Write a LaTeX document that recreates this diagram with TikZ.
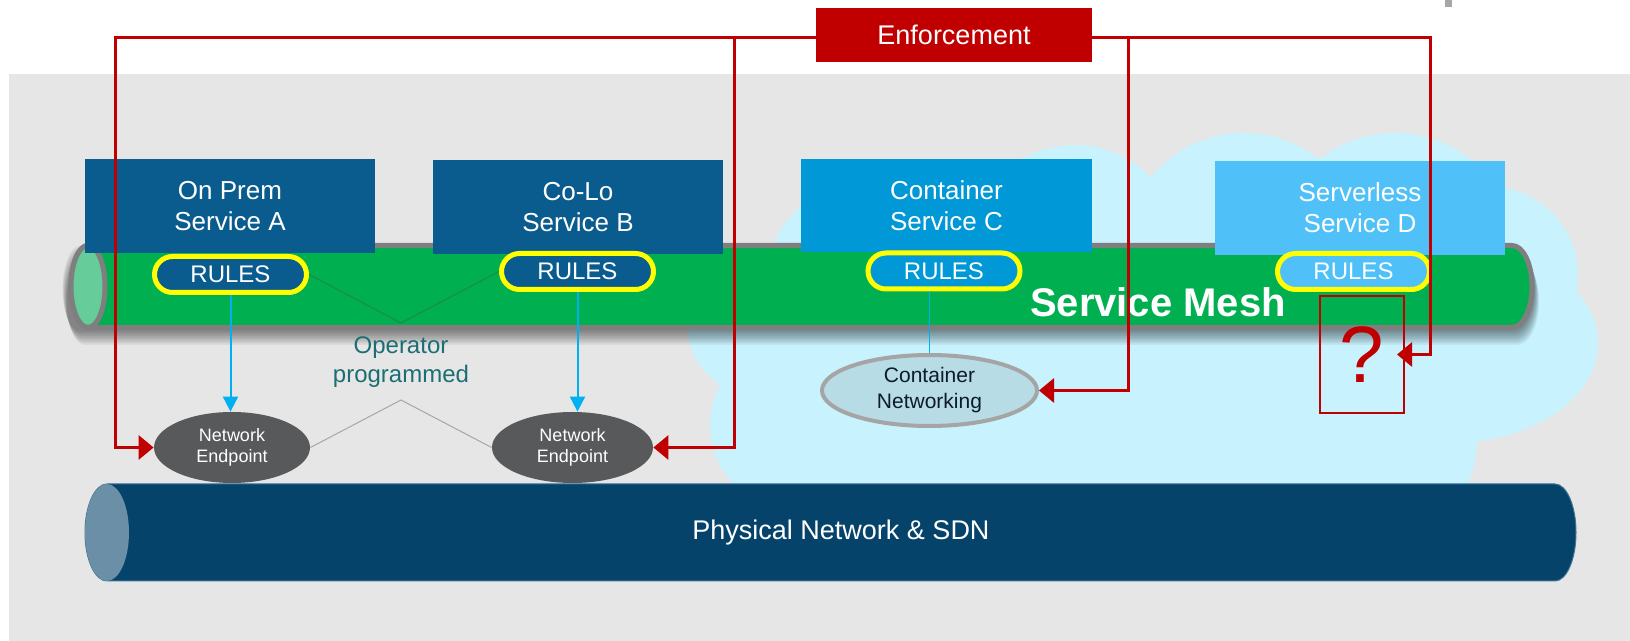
\documentclass[tikz,border=0pt]{standalone}
\usepackage{fontspec}
\setmainfont{Liberation Sans}
\usetikzlibrary{arrows.meta,shapes.geometric,calc}
\definecolor{bgray}{HTML}{E6E6E6}
\definecolor{enfred}{HTML}{C00000}
\definecolor{boxA}{HTML}{0B5C8E}
\definecolor{boxC}{HTML}{0098D6}
\definecolor{boxD}{HTML}{4FC1F8}
\definecolor{cloudc}{HTML}{C8F2FD}
\definecolor{meshg}{HTML}{00AF50}
\definecolor{meshcap}{HTML}{66CC99}
\definecolor{tubeout}{HTML}{7F7F7F}
\definecolor{physb}{HTML}{05436A}
\definecolor{physcap}{HTML}{6A8FA6}
\definecolor{physline}{HTML}{3E7396}
\definecolor{epgray}{HTML}{58595B}
\definecolor{cnfill}{HTML}{B7DCE5}
\definecolor{cnline}{HTML}{A5A5A5}
\definecolor{cntext}{HTML}{0D1B2A}
\definecolor{cyanl}{HTML}{00B0F0}
\definecolor{tealt}{HTML}{1B6E73}
\definecolor{rulesy}{HTML}{FFFF00}
\definecolor{markgray}{HTML}{A6A6A6}
\definecolor{vgreen}{HTML}{1E8A45}
\begin{document}
\begin{tikzpicture}[x=0.5pt,y=-0.5pt,
  svc/.style={rectangle, minimum width=145pt, minimum height=47pt, inner sep=0pt,
    text=white, font=\fontsize{13}{15.5}\selectfont, align=center},
  pill/.style={rectangle, rounded corners=9pt, draw=rulesy, line width=2.5pt,
    minimum width=76pt, minimum height=18pt, inner sep=0pt, text=white,
    font=\fontsize{12}{14}\selectfont},
  ep/.style={ellipse, fill=epgray, minimum width=78pt, minimum height=35.5pt,
    inner sep=0pt, text=white, font=\fontsize{9}{10.5}\selectfont, align=center},
  redl/.style={draw=enfred, line width=1.5pt},
  redtip/.style={-{Triangle[length=7.5pt,width=12pt]}},
  bluel/.style={draw=cyanl, line width=1pt},
  bluetip/.style={-{Triangle[length=7.5pt,width=7.5pt]}},
  vline/.style={draw=vgreen, line width=0.5pt},
  lline/.style={draw=markgray, line width=0.5pt},
  shadowlayer/.style={fill=black, fill opacity=0.05}]
\useasboundingbox (0,0) rectangle (1630,641);
\fill[white] (0,0) rectangle (1630,641);
\fill[bgray] (9,74) rectangle (1630,641);
\fill[markgray] (1445,0) rectangle (1452,7);
% cloud
\fill[cloudc] (1075,250) circle[radius=105];
\fill[cloudc] (1244,253) circle[radius=120];
\fill[cloudc] (1395,255) circle[radius=122];
\fill[cloudc] (1490,275) circle[radius=88];
\fill[cloudc] (1450,343) ellipse[x radius=148, y radius=100];
\fill[cloudc] (1370,440) circle[radius=107];
\fill[cloudc] (850,270) circle[radius=80];
\fill[cloudc] (790,330) ellipse[x radius=102, y radius=75];
\fill[cloudc] (795,425) circle[radius=85];
\fill[cloudc] (800,230) rectangle (1460,483);
% shadow of the service mesh tube
\foreach \k in {1,...,10} {
  \path[shadowlayer, shift={({0.5*\k},{1.5*\k})}]
    (80,244) -- (1512,244) arc[start angle=-90, end angle=90, x radius=22, y radius=43]
    -- (80,330) arc[start angle=90, end angle=270, x radius=18, y radius=43] -- cycle;
}
% service mesh tube
\path[fill=meshg, draw=tubeout, line width=2.5pt]
  (88,245.5) -- (1512,245.5) arc[start angle=-90, end angle=90, x radius=20, y radius=41]
  -- (88,327.5) arc[start angle=90, end angle=270, x radius=17, y radius=41] -- cycle;
\draw[fill=meshcap, draw=tubeout, line width=2.5pt] (88,286.5) ellipse[x radius=17, y radius=41];
% physical tube
\path[fill=physb, draw=physline, line width=0.5pt]
  (107,484) -- (1555,484) arc[start angle=-90, end angle=90, x radius=21, y radius=48.5]
  -- (107,581) arc[start angle=90, end angle=270, x radius=22, y radius=48.5] -- cycle;
\fill[physcap] (107,532.5) ellipse[x radius=22, y radius=48.5];
\node[text=white, font=\fontsize{13.5}{16}\selectfont] (phys) at (841,533) {Physical Network \& SDN};
\node[text=white, font=\bfseries\fontsize{20}{24}\selectfont] (mesh) at (1158,302) {Service Mesh};
% services
\node[svc, fill=boxA] (sA) at (230,206) {On Prem\\Service A};
\node[svc, fill=boxA] (sB) at (578,207) {Co-Lo\\Service B};
\node[svc, fill=boxC, minimum width=145.5pt, minimum height=46.5pt] (sC) at (946.5,205.5) {Container\\Service C};
\node[svc, fill=boxD] (sD) at (1360,208) {Serverless\\Service D};
% rules
\node[pill, fill=boxA] (rA) at (230.5,274.5) {RULES};
\node[pill, fill=boxA] (rB) at (577.5,271.5) {RULES};
\node[pill, fill=boxC] (rC) at (944,271) {RULES};
\node[pill, fill=boxD] (rD) at (1353.5,271.5) {RULES};
% endpoints
\node[ep] (eA) at (232,447.5) {Network\\Endpoint};
\node[ep, minimum width=80.5pt] (eB) at (572.5,447.5) {Network\\Endpoint};
\node[ellipse, fill=cnfill, draw=cnline, line width=2pt, minimum width=107.5pt,
  minimum height=35.5pt, inner sep=0pt, text=cntext, align=center,
  font=\fontsize{10.5}{13}\selectfont] (cn) at (929.5,390.5) {Container\\Networking};
\node[text=tealt, align=center, font=\fontsize{12}{14.5}\selectfont] (op) at (401,362) {Operator\\programmed};
% operator lines
\coordinate (vb) at (401,323);
\coordinate (lt) at (401,400);
\draw[vline] (rA.east) -- (vb) -- (rB.west);
\draw[lline] (eA.east) -- (lt) -- (eB.west);
% blue connectors
\draw[bluel, bluetip] (rA.south) -- (rA.south |- eA.north);
\draw[bluel, bluetip] (rB.south) -- (rB.south |- eB.north);
\draw[draw=cyanl, line width=0.75pt] (cn.north) -- (cn.north |- rC.south);
% question box
\node[draw=enfred, line width=1pt, minimum width=42pt, minimum height=58.5pt, inner sep=0pt,
  text=enfred, font=\fontsize{40}{40}\selectfont] (q) at (1362,354.5) {?};
% enforcement lines
\coordinate (enfc) at (954,38);
\coordinate (j1) at (115,38);
\coordinate (j2) at (734,38);
\coordinate (j3) at (1128,38);
\coordinate (j4) at (1430,38);
\draw[redl, redtip] (enfc) -- (j1) |- (eA.west);
\draw[redl, redtip] (enfc) -- (j4) |- ([xshift=-4pt]q.east);
\draw[redl, redtip] (j2) |- (eB.east);
\draw[redl, redtip] (j3) |- (cn.east);
\node[fill=enfred, text=white, minimum width=138pt, minimum height=27pt, inner sep=0pt,
  font=\fontsize{13.5}{16}\selectfont] (enf) at (954,35) {Enforcement};
\end{tikzpicture}
\end{document}
